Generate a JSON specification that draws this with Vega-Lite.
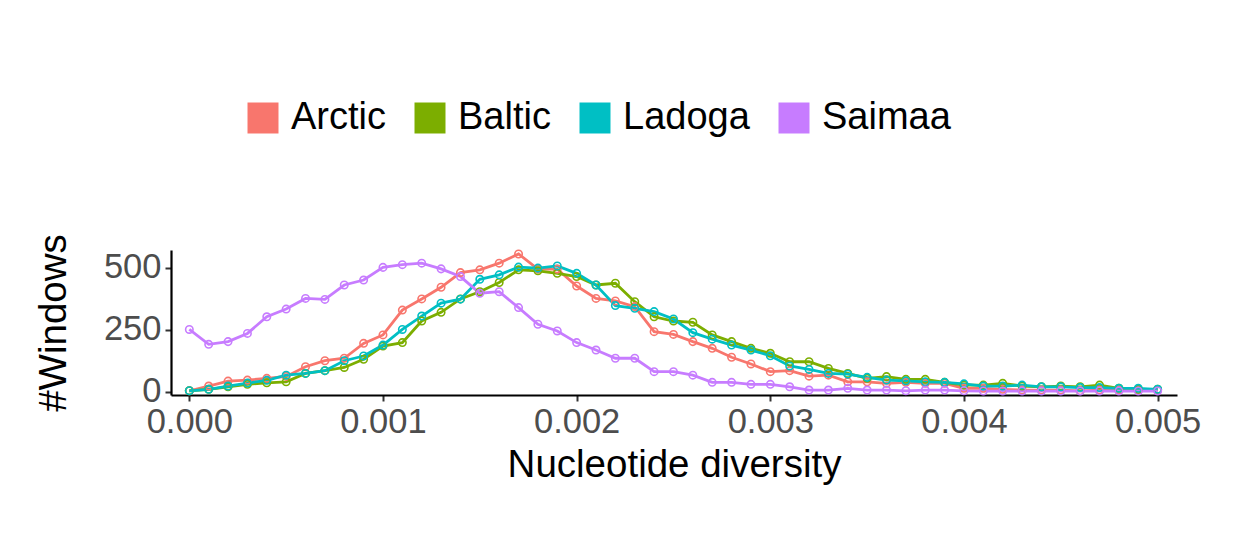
{
  "$schema": "https://vega.github.io/schema/vega-lite/v6.json",
  "width": 1006,
  "height": 145,
  "autosize": {"type": "none"},
  "padding": {"left": 171, "top": 250, "right": 68, "bottom": 154},
  "background": "white",
  "config": {
    "view": {"stroke": null},
    "font": "Liberation Sans",
    "axis": {
      "grid": false,
      "domainColor": "black",
      "domainWidth": 2.2,
      "tickColor": "#333333",
      "tickWidth": 2,
      "tickSize": 6,
      "labelColor": "#4D4D4D",
      "labelFont": "Liberation Sans",
      "labelFontSize": 34.5,
      "titleFont": "Liberation Sans",
      "titleFontSize": 38.5,
      "titleFontWeight": "normal",
      "titleColor": "black"
    }
  },
  "data": {
    "values": [
      {"pi": 0.0000, "Arctic": 4, "Baltic": 4, "Ladoga": 4, "Saimaa": 251},
      {"pi": 0.0001, "Arctic": 23, "Baltic": 10, "Ladoga": 10, "Saimaa": 191},
      {"pi": 0.0002, "Arctic": 43, "Baltic": 20, "Ladoga": 23, "Saimaa": 202},
      {"pi": 0.0003, "Arctic": 47, "Baltic": 30, "Ladoga": 35, "Saimaa": 235},
      {"pi": 0.0004, "Arctic": 54, "Baltic": 36, "Ladoga": 46, "Saimaa": 302},
      {"pi": 0.0005, "Arctic": 62, "Baltic": 40, "Ladoga": 67, "Saimaa": 333},
      {"pi": 0.0006, "Arctic": 101, "Baltic": 74, "Ladoga": 74, "Saimaa": 376},
      {"pi": 0.0007, "Arctic": 125, "Baltic": 85, "Ladoga": 85, "Saimaa": 372},
      {"pi": 0.0008, "Arctic": 135, "Baltic": 98, "Ladoga": 125, "Saimaa": 430},
      {"pi": 0.0009, "Arctic": 195, "Baltic": 131, "Ladoga": 144, "Saimaa": 450},
      {"pi": 0.0010, "Arctic": 229, "Baltic": 184, "Ladoga": 188, "Saimaa": 501},
      {"pi": 0.0011, "Arctic": 329, "Baltic": 198, "Ladoga": 251, "Saimaa": 512},
      {"pi": 0.0012, "Arctic": 374, "Baltic": 285, "Ladoga": 305, "Saimaa": 518},
      {"pi": 0.0013, "Arctic": 421, "Baltic": 320, "Ladoga": 357, "Saimaa": 495},
      {"pi": 0.0014, "Arctic": 480, "Baltic": 374, "Ladoga": 373, "Saimaa": 464},
      {"pi": 0.0015, "Arctic": 491, "Baltic": 403, "Ladoga": 453, "Saimaa": 397},
      {"pi": 0.0016, "Arctic": 518, "Baltic": 440, "Ladoga": 471, "Saimaa": 403},
      {"pi": 0.0017, "Arctic": 555, "Baltic": 491, "Ladoga": 502, "Saimaa": 339},
      {"pi": 0.0018, "Arctic": 494, "Baltic": 487, "Ladoga": 498, "Saimaa": 272},
      {"pi": 0.0019, "Arctic": 494, "Baltic": 477, "Ladoga": 507, "Saimaa": 245},
      {"pi": 0.0020, "Arctic": 426, "Baltic": 464, "Ladoga": 477, "Saimaa": 198},
      {"pi": 0.0021, "Arctic": 376, "Baltic": 430, "Ladoga": 430, "Saimaa": 168},
      {"pi": 0.0022, "Arctic": 366, "Baltic": 437, "Ladoga": 347, "Saimaa": 135},
      {"pi": 0.0023, "Arctic": 343, "Baltic": 363, "Ladoga": 336, "Saimaa": 135},
      {"pi": 0.0024, "Arctic": 242, "Baltic": 302, "Ladoga": 323, "Saimaa": 81},
      {"pi": 0.0025, "Arctic": 231, "Baltic": 285, "Ladoga": 293, "Saimaa": 81},
      {"pi": 0.0026, "Arctic": 202, "Baltic": 280, "Ladoga": 238, "Saimaa": 67},
      {"pi": 0.0027, "Arctic": 175, "Baltic": 229, "Ladoga": 212, "Saimaa": 38},
      {"pi": 0.0028, "Arctic": 139, "Baltic": 202, "Ladoga": 188, "Saimaa": 38},
      {"pi": 0.0029, "Arctic": 112, "Baltic": 175, "Ladoga": 168, "Saimaa": 30},
      {"pi": 0.0030, "Arctic": 81, "Baltic": 155, "Ladoga": 145, "Saimaa": 30},
      {"pi": 0.0031, "Arctic": 85, "Baltic": 121, "Ladoga": 104, "Saimaa": 20},
      {"pi": 0.0032, "Arctic": 63, "Baltic": 121, "Ladoga": 90, "Saimaa": 7},
      {"pi": 0.0033, "Arctic": 67, "Baltic": 94, "Ladoga": 74, "Saimaa": 7},
      {"pi": 0.0034, "Arctic": 40, "Baltic": 74, "Ladoga": 71, "Saimaa": 14},
      {"pi": 0.0035, "Arctic": 40, "Baltic": 54, "Ladoga": 58, "Saimaa": 7},
      {"pi": 0.0036, "Arctic": 34, "Baltic": 61, "Ladoga": 47, "Saimaa": 7},
      {"pi": 0.0037, "Arctic": 38, "Baltic": 50, "Ladoga": 44, "Saimaa": 4},
      {"pi": 0.0038, "Arctic": 34, "Baltic": 50, "Ladoga": 40, "Saimaa": 7},
      {"pi": 0.0039, "Arctic": 34, "Baltic": 38, "Ladoga": 38, "Saimaa": 7},
      {"pi": 0.0040, "Arctic": 14, "Baltic": 27, "Ladoga": 32, "Saimaa": 4},
      {"pi": 0.0041, "Arctic": 14, "Baltic": 27, "Ladoga": 23, "Saimaa": 3},
      {"pi": 0.0042, "Arctic": 10, "Baltic": 34, "Ladoga": 23, "Saimaa": 3},
      {"pi": 0.0043, "Arctic": 7, "Baltic": 23, "Ladoga": 27, "Saimaa": 3},
      {"pi": 0.0044, "Arctic": 7, "Baltic": 20, "Ladoga": 20, "Saimaa": 3},
      {"pi": 0.0045, "Arctic": 7, "Baltic": 23, "Ladoga": 20, "Saimaa": 3},
      {"pi": 0.0046, "Arctic": 4, "Baltic": 20, "Ladoga": 17, "Saimaa": 3},
      {"pi": 0.0047, "Arctic": 7, "Baltic": 27, "Ladoga": 17, "Saimaa": 3},
      {"pi": 0.0048, "Arctic": 7, "Baltic": 14, "Ladoga": 14, "Saimaa": 3},
      {"pi": 0.0049, "Arctic": 7, "Baltic": 10, "Ladoga": 14, "Saimaa": 3},
      {"pi": 0.0050, "Arctic": 7, "Baltic": 10, "Ladoga": 10, "Saimaa": 3}
    ]
  },
  "transform": [
    {"fold": ["Arctic", "Baltic", "Ladoga", "Saimaa"], "as": ["population", "windows"]}
  ],
  "encoding": {
    "x": {
      "field": "pi",
      "type": "quantitative",
      "title": "Nucleotide diversity",
      "scale": {"domain": [-0.0000946, 0.0051], "nice": false, "zero": false},
      "axis": {
        "values": [0, 0.001, 0.002, 0.003, 0.004, 0.005],
        "format": ".3f",
        "labelPadding": 4,
        "titlePadding": 8
      }
    },
    "y": {
      "field": "windows",
      "type": "quantitative",
      "title": "#Windows",
      "scale": {"domain": [-13, 571], "nice": false, "zero": false},
      "axis": {
        "values": [0, 250, 500],
        "labelPadding": 4,
        "titlePadding": 30
      }
    },
    "color": {
      "field": "population",
      "type": "nominal",
      "scale": {
        "domain": ["Arctic", "Baltic", "Ladoga", "Saimaa"],
        "range": ["#F8766D", "#7CAE00", "#00BFC4", "#C77CFF"]
      },
      "legend": {
        "title": null,
        "orient": "none",
        "direction": "horizontal",
        "legendX": 73,
        "legendY": -151,
        "padding": 0,
        "symbolType": "square",
        "symbolSize": 961,
        "symbolStrokeWidth": 0,
        "symbolOpacity": 1,
        "labelFont": "Liberation Sans",
        "labelFontSize": 38,
        "labelColor": "black",
        "labelOffset": 9,
        "columnPadding": 25,
        "labelLimit": 400,
        "encode": {
          "symbols": {
            "update": {
              "fill": {"scale": "color", "field": "value"},
              "strokeWidth": {"value": 0}
            }
          }
        }
      }
    }
  },
  "layer": [
    {
      "mark": {"type": "line", "strokeWidth": 2.8}
    },
    {
      "mark": {"type": "point", "filled": false, "size": 55, "strokeWidth": 1.6, "opacity": 1}
    }
  ]
}
